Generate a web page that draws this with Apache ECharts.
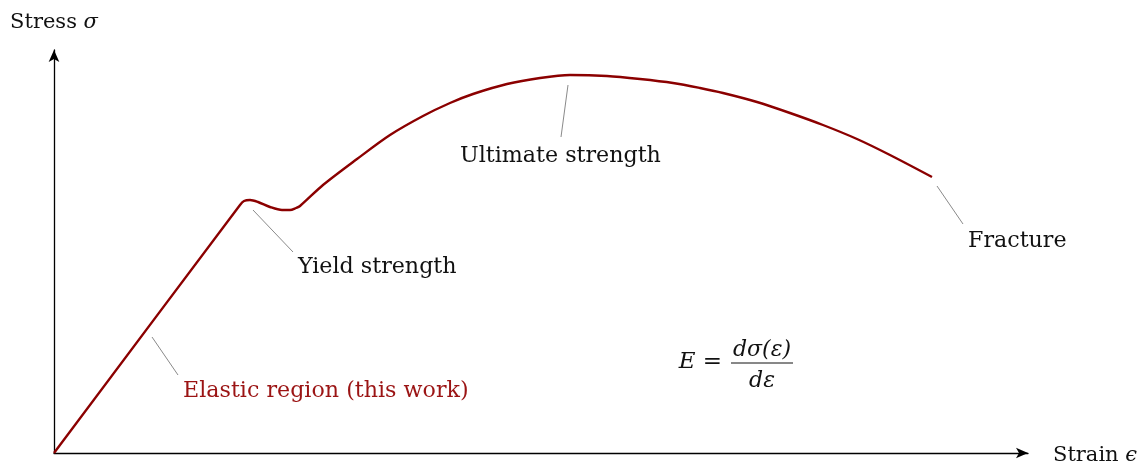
<!DOCTYPE html>
<html>
<head>
<meta charset="utf-8">
<script src="https://cdn.jsdelivr.net/npm/echarts@6/dist/echarts.min.js"></script>
<style>
html,body{margin:0;padding:0;background:#fff;}
#main{width:1147px;height:462px;}
</style>
</head>
<body>
<div id="main"></div>
<script>
// Stress–strain curve (arbitrary units)
var strain = [0, 186, 190, 196, 204, 216, 228, 236, 242, 246, 269, 303, 336, 369, 396, 419, 453, 486, 516, 553, 586, 619, 646, 669, 703, 736, 769, 803, 836, 878];
var stress = [0, 248, 252, 253, 251, 246, 243, 243, 245, 247, 268, 294, 318, 337, 350, 359, 369, 375, 378, 377, 374, 370, 365, 360, 351, 340, 328, 314, 298, 276];

// Annotation labels: text, anchor (left edge / middle of text)
var labelTexts = ['Ultimate strength', 'Yield strength', 'Fracture', 'Elastic region (this work)'];
var labelX = [406, 244, 914, 129];
var labelY = [297, 186, 212, 62];

// Leader lines: start and end points
var leaderX1 = [514, 199, 883, 98];
var leaderY1 = [368, 243, 267, 116];
var leaderX2 = [507, 239, 909, 124];
var leaderY2 = [316, 201, 229, 78];

// Formula anchor (centre of the fraction bar)
var formulaAnchor = [708, 90];

var xMax = 974, yMax = 403;
var FONT = 'DejaVu Serif';
var RED = '#8b0000';
var TXT = '#111';

var chart = echarts.init(document.getElementById('main'));

var curveData = strain.map(function (x, i) { return [x, stress[i]]; });

var series = [{
  type: 'line',
  data: curveData,
  smooth: 0.3,
  showSymbol: false,
  lineStyle: { color: RED, width: 2.4 },
  z: 3
}];

for (var i = 0; i < leaderX1.length; i++) {
  series.push({
    type: 'line',
    data: [[leaderX1[i], leaderY1[i]], [leaderX2[i], leaderY2[i]]],
    showSymbol: false,
    lineStyle: { color: '#8a8a8a', width: 1 },
    silent: true,
    z: 2
  });
}

var labelData = labelTexts.map(function (t, i) { return { name: t, value: [labelX[i], labelY[i]] }; });
labelData[3].label = { color: '#9b1414' };

series.push({
  type: 'scatter',
  symbolSize: 0,
  itemStyle: { opacity: 1 },
  data: labelData,
  label: {
    show: true,
    position: 'right',
    distance: 0,
    formatter: function (p) { return p.name; },
    fontFamily: FONT,
    fontSize: 22.2,
    color: TXT,
    opacity: 1
  },
  z: 4
});

var axisCommon = {
  axisLine: { show: true, lineStyle: { color: '#000', width: 1.3 }, symbol: ['none', 'arrow'], symbolSize: [8, 12] },
  axisTick: { show: false },
  axisLabel: { show: false },
  splitLine: { show: false }
};

var richItalic = { i: { fontFamily: FONT, fontSize: 21, fontStyle: 'italic', color: TXT } };

chart.setOption({
  animation: false,
  backgroundColor: '#fff',
  grid: { left: 54, right: 1147 - 1028, top: 50, bottom: 9, containLabel: false, outerBoundsMode: 'none' },
  xAxis: Object.assign({
    type: 'value', min: 0, max: xMax,
    name: 'Strain {i|ϵ}', nameLocation: 'end', nameGap: 25,
    nameTextStyle: { fontFamily: FONT, fontSize: 21, color: TXT, padding: [6, 0, 0, 0], rich: richItalic }
  }, axisCommon),
  yAxis: Object.assign({
    type: 'value', min: 0, max: yMax,
    name: 'Stress {i|σ}', nameLocation: 'end', nameGap: 17,
    nameTextStyle: { fontFamily: FONT, fontSize: 21, color: TXT, rich: richItalic }
  }, axisCommon),
  series: series
});

var c = chart.convertToPixel({ gridIndex: 0 }, formulaAnchor);
var mathStyle = { fontFamily: FONT, fontSize: 22, fontStyle: 'italic', fill: TXT };
chart.setOption({
  graphic: [
    { type: 'text', x: c[0] - 40, y: c[1] - 1, style: Object.assign({}, mathStyle, { text: 'E =', align: 'right', verticalAlign: 'middle', fontSize: 23 }) },
    { type: 'text', x: c[0], y: c[1] - 13, style: Object.assign({}, mathStyle, { text: 'dσ(ε)', align: 'center', verticalAlign: 'middle' }) },
    { type: 'line', shape: { x1: c[0] - 31, y1: c[1], x2: c[0] + 31, y2: c[1] }, style: { stroke: TXT, lineWidth: 1 } },
    { type: 'text', x: c[0], y: c[1] + 18, style: Object.assign({}, mathStyle, { text: 'dε', align: 'center', verticalAlign: 'middle' }) }
  ]
});
</script>
</body>
</html>
